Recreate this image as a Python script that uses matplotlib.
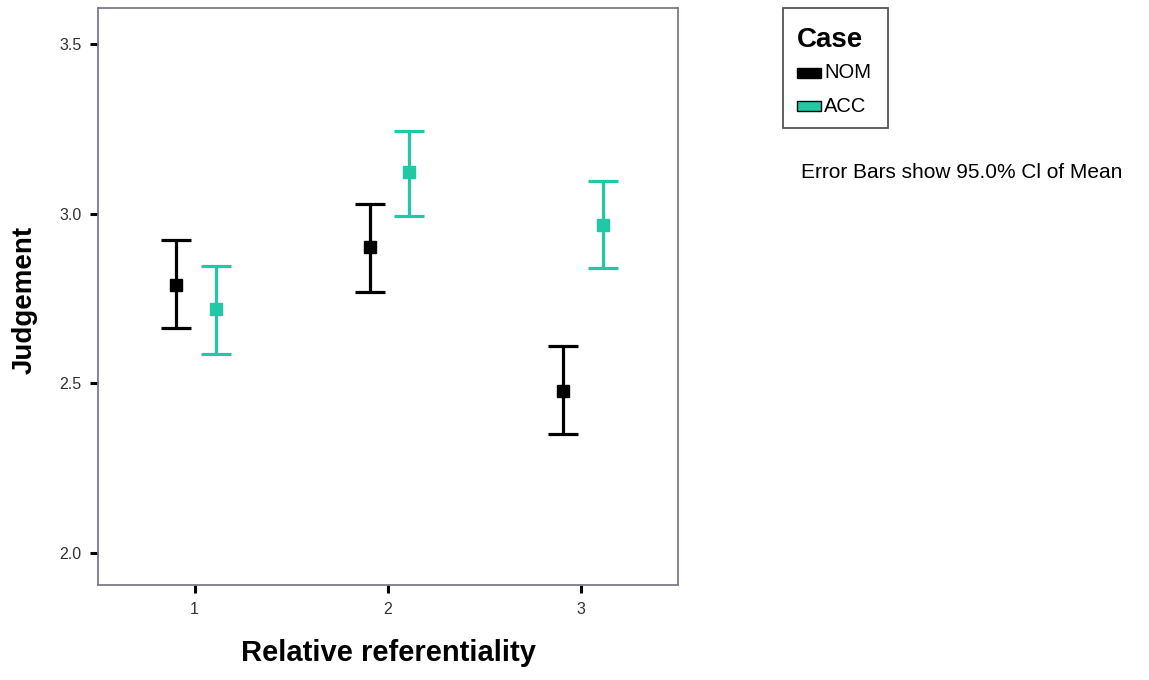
import matplotlib.pyplot as plt
from matplotlib.patches import Rectangle

plt.rcParams["font.family"] = ["Liberation Sans", "DejaVu Sans"]

# Relative referentiality groups
groups = [1, 2, 3]
# means and 95% CI bounds
nom_mean = [2.79, 2.903, 2.478]
nom_low = [2.664, 2.77, 2.351]
nom_high = [2.923, 3.03, 2.61]
acc_mean = [2.72, 3.124, 2.968]
acc_low = [2.587, 2.994, 2.841]
acc_high = [2.847, 3.245, 3.097]
series_names = ["NOM", "ACC"]

black = "black"
teal = "#20c9a4"
W, H = 1149, 680

fig = plt.figure(figsize=(W / 100, H / 100), dpi=100)
ax = fig.add_axes([98 / W, 1 - 585 / H, 580 / W, 577 / H])

def draw(offset, means, lows, highs, color):
    xs = [g + offset for g in groups]
    err = [[m - l for m, l in zip(means, lows)], [h - m for m, h in zip(means, highs)]]
    ax.errorbar(xs, means, yerr=err, fmt="s", color=color, ecolor=color,
                elinewidth=2.3, capsize=11, capthick=2.3, markersize=9)

draw(-0.095, nom_mean, nom_low, nom_high, black)
draw(0.11, acc_mean, acc_low, acc_high, teal)

ax.set_xlim(0.5, 3.5)
ax.set_ylim(1.906, 3.606)
ax.set_xticks(groups)
ax.set_yticks([2.0, 2.5, 3.0, 3.5])
ax.set_yticklabels(["2.0", "2.5", "3.0", "3.5"])
ax.tick_params(axis="both", length=6, width=2.2, labelsize=11.5, pad=6, colors="black", labelcolor="#333333")
for s in ax.spines.values():
    s.set_color("#7a7a8a")
    s.set_linewidth(1.3)

ax.set_xlabel("Relative referentiality", fontsize=21, fontweight="bold", labelpad=16)
# y label placed by hand so it sits close to the left edge like the original
fig.text(25 / W, 1 - 300 / H, "Judgement", fontsize=20, fontweight="bold",
         rotation=90, ha="center", va="center")

# legend box drawn by hand to match the SPSS layout
fig.patches.append(Rectangle((783 / W, 1 - 128 / H), 105 / W, 120 / H, transform=fig.transFigure,
                             facecolor="white", edgecolor="#555555", linewidth=1.3))
fig.text(797 / W, 1 - 40 / H, "Case", fontsize=20, fontweight="bold", va="center", ha="left")
for i, (name, col) in enumerate(zip(series_names, [black, teal])):
    yc = 73 + i * 33
    fig.patches.append(Rectangle((797 / W, 1 - (yc + 5) / H), 24 / W, 10 / H, transform=fig.transFigure,
                                 facecolor=col, edgecolor=black, linewidth=1))
    fig.text(824 / W, 1 - yc / H, name, fontsize=14.5, va="center", ha="left")

fig.text(801 / W, 1 - 172 / H, "Error Bars show 95.0% Cl of Mean",
         fontsize=15, va="center", ha="left")

fig.savefig("out.png", dpi=100)
